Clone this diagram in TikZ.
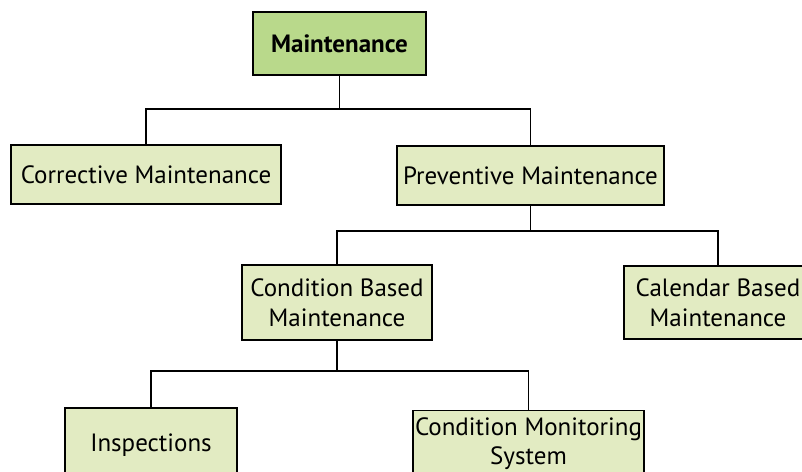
\documentclass[tikz,border=0pt]{standalone}
\usepackage{fontspec}
\setmainfont{PT Sans}
\usetikzlibrary{positioning}
\definecolor{topgreen}{RGB}{185,217,139}
\definecolor{boxgreen}{RGB}{226,235,194}
\begin{document}
\begin{tikzpicture}[x=1pt,y=-1pt, box/.style={draw=black,line width=1.6pt,fill=boxgreen,align=center,inner sep=2pt,font=\fontsize{25}{30}\selectfont},link/.style={line width=1.6pt}]
\useasboundingbox (0,0) rectangle (802,471);
                      \node[box,fill=topgreen,font=\bfseries\fontsize{25}{30}\selectfont,minimum width=173pt,minimum height=63pt] (m) at (339.5,43.5) {Maintenance};

                      \node[box,minimum width=270pt,minimum height=59pt] (cm) at (146,174.5) {Corrective Maintenance};
                      \node[box,minimum width=267pt,minimum height=59pt] (pm) at (530.5,175.5) {Preventive Maintenance};

                      \node[box,minimum width=190pt,minimum height=75pt] (cbm) at (337,302.5) {Condition Based\\Maintenance};
                      \node[box,minimum width=188pt,minimum height=73pt] (calbm) at (718,302.5) {Calendar Based\\Maintenance};

                      \node[box,minimum width=172pt,minimum height=75pt] (ins) at (151,445.5) {Inspections};
                      \node[box,font=\fontsize{25}{29}\selectfont,minimum width=231pt,minimum height=67pt] (cms) at (528.5,444) {Condition Monitoring\\System};

                      \draw[link] (m.south) -- ++(0,33) -| (cm.north);
                      \draw[link] (m.south) -- ++(0,33) -| (pm.north);
                      \draw[link] (pm.south) -- ++(0,25) -| (cbm.north);
                      \draw[link] (pm.south) -- ++(0,25) -| (calbm.north);
                      \draw[link] (cbm.south) -- ++(0,30) -| (ins.north);
                      \draw[link] (cbm.south) -- ++(0,30) -| (cms.north);
                    \end{tikzpicture}
\end{document}
